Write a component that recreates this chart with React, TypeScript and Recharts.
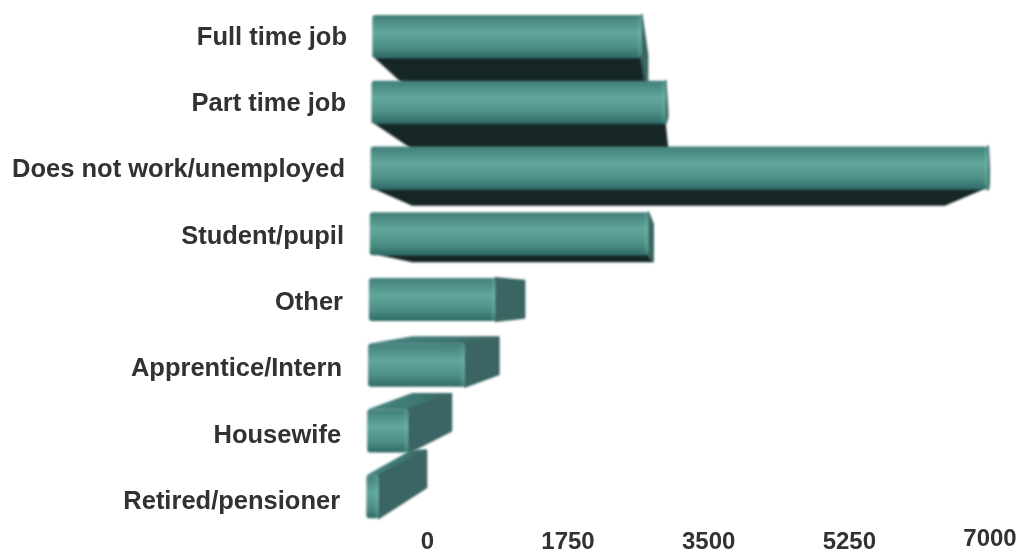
import React from "react";
import { BarChart, Bar, XAxis, YAxis } from "recharts";

const categories = [
  "Full time job",
  "Part time job",
  "Does not work/unemployed",
  "Student/pupil",
  "Other",
  "Apprentice/Intern",
  "Housewife",
  "Retired/pensioner",
];
const counts = [2750, 3000, 7000, 2820, 1220, 900, 310, 0];
const xTicks = [0, 1750, 3500, 5250, 7000];

const rows = categories.map((name, i) => ({ name, count: counts[i] }));

const textColor = "#303030";

// fake 3D block: the bar end is on the back plane, the front face gets pulled from it
const BlockBar = (props: any) => {
  const { x, y, width, height } = props;
  const backRight = x + width;
  const backLeft = x - 15;
  const frontLeft = x - 55 - (y - 16) * 0.013;
  const dx = Math.max(2, (668 - backRight) * 0.19 + 3);
  const frontRight = backRight - dx;
  const bottom = y + height;
  const dy = (298 - (y + height / 2)) * 0.14 - 2;
  const backBottom = bottom + dy;
  const backTop = y + dy + 4;
  const chamfer = Math.max(0, (backRight - 668) * 0.14);

  return (
    <g filter="url(#soft)">
      {dy > 0 && (
        <polygon
          points={`${frontLeft},${bottom - 2} ${backLeft},${backBottom} ${backRight - chamfer},${backBottom} ${frontRight},${bottom - 2}`}
          fill="#172725"
        />
      )}
      {backTop < y && (
        <polygon
          points={`${frontLeft},${y} ${backLeft},${backTop} ${backRight},${backTop} ${frontRight},${y}`}
          fill="url(#topFace)"
        />
      )}
      <polygon
        points={`${frontRight},${y} ${backRight - 1},${backTop + 1} ${backRight - 1},${chamfer ? bottom - 6 : backBottom - 1} ${frontRight},${bottom}`}
        fill="#3a6562"
        stroke="#3a6562"
        strokeWidth={2}
        strokeLinejoin="round"
      />
      <rect
        x={frontLeft}
        y={y}
        width={frontRight - frontLeft}
        height={height}
        rx={3}
        fill="url(#frontFace)"
      />
      <rect
        x={frontRight - 5}
        y={y + 1}
        width={5}
        height={height - 2}
        rx={2}
        fill="url(#rim)"
      />
    </g>
  );
};

const CategoryTick = ({ x, y, payload }: any) => (
  <text
    x={x - (y - 37) * 0.015}
    y={y + 1 + (y - 37) * 0.009}
    textAnchor="end"
    dominantBaseline="middle"
    fontFamily="Liberation Sans"
    fontWeight={700}
    fontSize={25.5}
    fill={textColor}
    filter="url(#softText)"
  >
    {payload.value}
  </text>
);

const ValueTick = ({ x, payload }: any) => (
  <text
    x={x}
    y={payload.value === 7000 ? 540 : 543}
    textAnchor="middle"
    dominantBaseline="middle"
    fontFamily="Liberation Sans"
    fontWeight={700}
    fontSize={24}
    fill={textColor}
    filter="url(#softText)"
  >
    {payload.value}
  </text>
);

export default function App() {
  return (
    <div style={{ position: "absolute", left: 0, top: 0, width: 1025, height: 556 }}>
      <BarChart
        width={1025}
        height={556}
        data={rows}
        layout="vertical"
        barSize={43}
        margin={{ top: 4, right: 35, bottom: 0, left: 0 }}
      >
        <defs>
          <linearGradient id="frontFace" x1="0" y1="0" x2="0" y2="1">
            <stop offset="0" stopColor="#417f79" />
            <stop offset="0.4" stopColor="#62a79c" />
            <stop offset="0.75" stopColor="#4c8e85" />
            <stop offset="1" stopColor="#2e6865" />
          </linearGradient>
          <linearGradient id="topFace" x1="0" y1="0" x2="1" y2="0">
            <stop offset="0" stopColor="#47867f" />
            <stop offset="0.5" stopColor="#407974" />
            <stop offset="1" stopColor="#3a6562" />
          </linearGradient>
          <linearGradient id="rim" x1="0" y1="0" x2="1" y2="0">
            <stop offset="0" stopColor="#7fc6ba" stopOpacity={0} />
            <stop offset="1" stopColor="#7fc6ba" stopOpacity={0.4} />
          </linearGradient>
          <filter id="soft" x="-5%" y="-20%" width="110%" height="140%">
            <feGaussianBlur stdDeviation="1" />
          </filter>
          <filter id="softText" x="-5%" y="-20%" width="110%" height="140%">
            <feGaussianBlur stdDeviation="0.6" />
          </filter>
        </defs>
        <XAxis
          type="number"
          dataKey="count"
          domain={[-800, 7000]}
          ticks={xTicks}
          axisLine={false}
          tickLine={false}
          height={26}
          tick={<ValueTick />}
          interval={0}
        />
        <YAxis
          type="category"
          dataKey="name"
          width={363}
          axisLine={false}
          tickLine={false}
          tickMargin={10}
          tick={<CategoryTick />}
          interval={0}
        />
        <Bar dataKey="count" shape={<BlockBar />} isAnimationActive={false} />
      </BarChart>
    </div>
  );
}
